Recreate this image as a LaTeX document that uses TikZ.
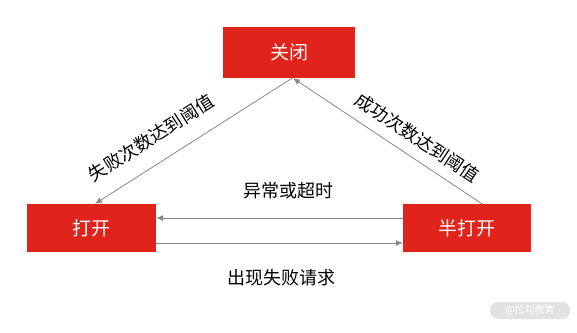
\documentclass[tikz,border=0pt]{standalone}
\usepackage{fontspec}
\setmainfont{Noto Sans CJK SC}
\usetikzlibrary{arrows.meta}
\definecolor{boxred}{RGB}{224,36,27}
\definecolor{linegray}{RGB}{136,136,136}
\definecolor{wmgray}{RGB}{226,226,226}
\begin{document}
\begin{tikzpicture}[x=1pt,y=-1pt,
  font=\fontsize{18}{20}\selectfont,
  statebox/.style={fill=boxred, text=white, inner sep=0pt, font=\fontsize{19}{22}\selectfont},
  arr/.style={draw=linegray, line width=0.8pt, -{Latex[length=7pt,width=6pt]}},
  lbl/.style={inner sep=0pt, text=black}]
\useasboundingbox (0,0) rectangle (577,332);
\node[statebox, minimum width=132pt, minimum height=51pt] (C) at (289,52.5) {关闭};
\node[statebox, minimum width=129pt, minimum height=48pt] (L) at (91.5,228) {打开};
\node[statebox, minimum width=128pt, minimum height=48pt] (R) at (467,228) {半打开};
\draw[arr] ([xshift=3pt]C.south) -- ([xshift=3.5pt]L.north);
\draw[arr] ([xshift=15pt]R.north) -- ([xshift=4pt]C.south);
\draw[arr] ([yshift=10pt]R.west) -- ([yshift=10pt]L.east);
\draw[arr] ([yshift=-15pt]L.east) -- ([yshift=-15pt]R.west);
\node[lbl, rotate=32.4] (lf) at (151,138) {失败次数达到阈值};
\node[lbl, rotate=-33.5] (ls) at (417,138) {成功次数达到阈值};
\node[lbl] (le) at (288,191) {异常或超时};
\node[lbl] (lr) at (281,278) {出现失败请求};
\node[fill=wmgray, rounded corners=8pt, text=white, inner sep=0pt, font=\fontsize{10}{12}\selectfont, minimum width=80pt, minimum height=17pt] (wm) at (530,310.5) {@拉勾教育};
\end{tikzpicture}
\end{document}
